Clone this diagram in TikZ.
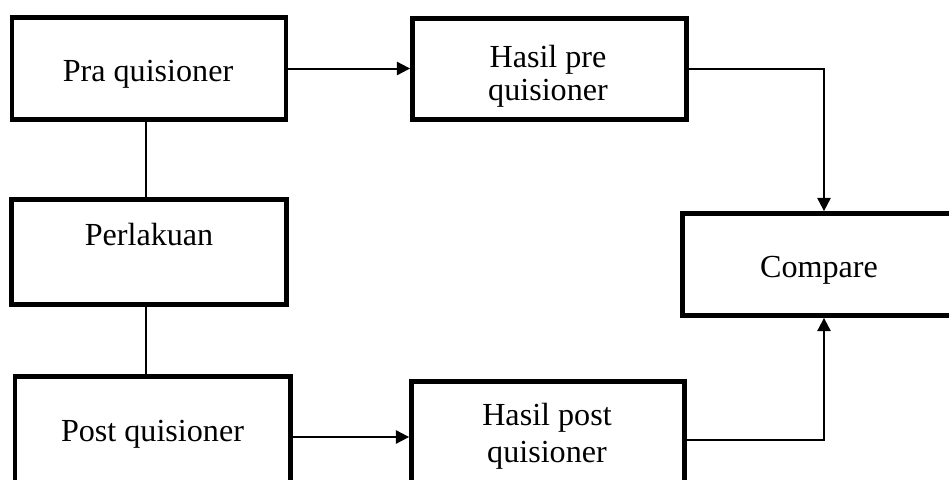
\documentclass[tikz,border=0pt]{standalone}
\usepackage{fontspec}
\setmainfont{Liberation Serif}
\usetikzlibrary{arrows.meta}

\begin{document}
\begin{tikzpicture}[x=0.75pt,y=-0.75pt,
  box/.style={draw, line width=3.6pt, inner sep=0pt, rectangle},
  lbl/.style={font=\fontsize{24.1pt}{25pt}\selectfont, inner sep=0pt, align=center},
  link/.style={line width=1.5pt},
  arr/.style={line width=1.5pt, -{Triangle[length=10pt,width=10pt]}}
]
\useasboundingbox (0,0) rectangle (949,479);
\clip (0,0) rectangle (949,479);

% boxes
\node[box, minimum width=205.5pt, minimum height=76.5pt]  (pra)   at (149,68.5)   {};
\node[box, minimum width=205.5pt, minimum height=76.1pt]  (pre)   at (549.5,69)   {};
\node[box, minimum width=205.9pt, minimum height=78.75pt] (perl)  at (149,252)    {};
\node[box, minimum width=204.4pt, minimum height=76.5pt]  (cmp)   at (818.75,264.5) {};
\node[box, minimum width=206.6pt, minimum height=90.75pt] (post)  at (152.75,437) {};
\node[box, minimum width=204.75pt, minimum height=87.75pt] (hpost) at (548,440)   {};

% texts
\node[lbl, anchor=base] (pra-t)  at (148,81.5)  {Pra quisioner};
\node[lbl]              (pre-t)  at (548,76)    {Hasil pre\\quisioner};
\node[lbl, anchor=base] (perl-t) at (149,245.5) {Perlakuan};
\node[lbl, anchor=base] (cmp-t)  at (819,277.5) {Compare};
\node[lbl, anchor=base] (post-t) at (152.5,441) {Post quisioner};
\node[lbl, font=\fontsize{24.1pt}{27.5pt}\selectfont] (hpost-t) at (547,436) {Hasil post\\quisioner};

% column of the comparison arrows
\coordinate (jx) at (824,0);

% connectors
\draw[link, line width=1.2pt] (pra.south -| 146,0) -- (perl.north -| 146,0);
\draw[link, line width=1.2pt] (perl.south -| 146,0) -- (post.north -| 146,0);
\draw[arr] (pra.east) -- (pra.east -| pre.west);
\draw[arr] (post.east) -- (post.east -| hpost.west);
\draw[arr] (pre.east) -| (jx |- cmp.north);
\draw[arr] (hpost.east) -| (jx |- cmp.south);
\end{tikzpicture}
\end{document}
